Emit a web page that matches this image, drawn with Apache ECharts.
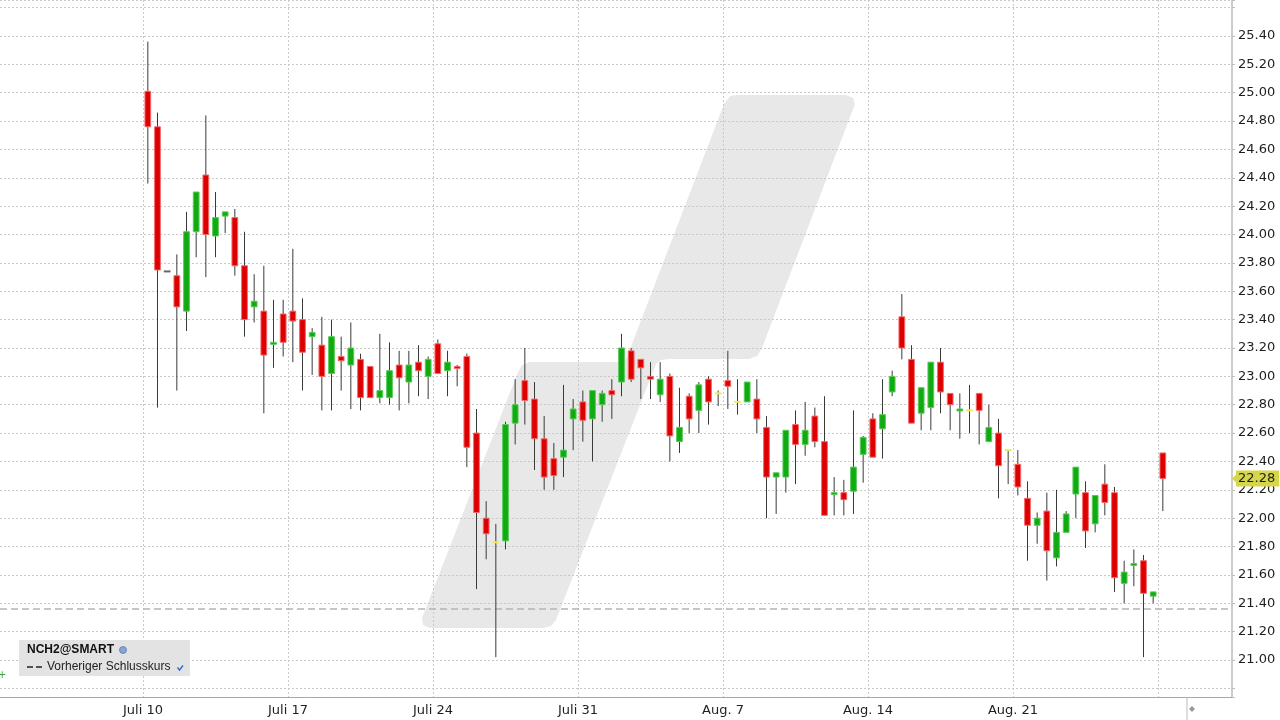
<!DOCTYPE html>
<html><head><meta charset="utf-8">
<script src="https://cdn.jsdelivr.net/npm/echarts@6/dist/echarts.min.js"></script>
<style>html,body{margin:0;padding:0;background:#fff}#c{width:1280px;height:720px}</style>
</head><body><div id="c"></div>
<script>
// ---- data ----
const tradingDays = ['Juli 10','Juli 11','Juli 12','Juli 13','Juli 14',
  'Juli 17','Juli 18','Juli 19','Juli 20','Juli 21',
  'Juli 24','Juli 25','Juli 26','Juli 27','Juli 28',
  'Juli 31','Aug. 1','Aug. 2','Aug. 3','Aug. 4',
  'Aug. 7','Aug. 8','Aug. 9','Aug. 10','Aug. 11',
  'Aug. 14','Aug. 15','Aug. 16','Aug. 17','Aug. 18',
  'Aug. 21','Aug. 22','Aug. 23','Aug. 24','Aug. 25',
  'Aug. 28'];
const sessions = ['09:00','12:00','15:00'];
const weekStarts = ['Juli 10','Juli 17','Juli 24','Juli 31','Aug. 7','Aug. 14','Aug. 21','Aug. 28'];
const tickLabels = ['Juli 10','Juli 17','Juli 24','Juli 31','Aug. 7','Aug. 14','Aug. 21'];
const leadSlots = 16, tailSlots = 20;

const opens = [25.01,24.76,23.74,23.71,23.46,24.02,24.42,23.99,24.13,24.12,23.78,23.49,23.46,23.23,23.44,
 23.46,23.40,23.28,23.22,23.02,23.14,23.08,23.12,23.07,22.85,22.85,23.08,22.96,23.10,23.00,
 23.23,23.04,23.07,23.14,22.60,22.00,21.83,21.84,22.67,22.97,22.84,22.56,22.42,22.43,22.70,
 22.82,22.70,22.80,22.90,22.96,23.18,23.12,23.00,22.87,23.00,22.54,22.86,22.76,22.98,22.88,
 22.97,22.82,22.82,22.84,22.64,22.29,22.29,22.66,22.52,22.72,22.54,22.17,22.18,22.19,22.45,
 22.70,22.63,22.89,23.42,23.12,22.74,22.78,23.10,22.88,22.76,22.76,22.88,22.54,22.60,22.48,
 22.38,22.14,21.95,22.05,21.72,21.90,22.17,22.18,21.96,22.24,22.18,21.54,21.67,21.70,21.45,
 22.46];
const closes = [24.76,23.75,23.74,23.49,24.02,24.30,24.00,24.12,24.16,23.78,23.40,23.53,23.15,23.24,23.24,
 23.39,23.17,23.31,23.00,23.28,23.11,23.20,22.85,22.85,22.90,23.04,22.99,23.08,23.04,23.12,
 23.02,23.10,23.06,22.50,22.04,21.89,21.83,22.66,22.80,22.83,22.56,22.29,22.30,22.48,22.77,
 22.69,22.90,22.88,22.87,23.20,22.98,23.06,22.98,22.98,22.58,22.64,22.70,22.94,22.82,22.88,
 22.93,22.82,22.96,22.70,22.29,22.32,22.62,22.52,22.62,22.54,22.02,22.18,22.13,22.36,22.57,
 22.43,22.73,23.00,23.20,22.67,22.92,23.10,22.89,22.80,22.77,22.76,22.76,22.64,22.37,22.48,
 22.22,21.95,22.00,21.77,21.90,22.03,22.36,21.91,22.16,22.11,21.58,21.62,21.68,21.47,21.48,
 22.28];
const lows = [24.36,22.78,23.74,22.90,23.32,23.84,23.70,23.84,24.01,23.71,23.28,23.38,22.74,23.06,23.14,
 23.10,22.90,23.01,22.76,22.76,22.90,22.77,22.76,22.85,22.81,22.80,22.76,22.81,22.86,22.84,
 23.02,22.86,22.93,22.36,21.50,21.71,21.02,21.78,22.52,22.66,22.34,22.20,22.20,22.29,22.48,
 22.54,22.40,22.68,22.70,22.86,22.96,22.84,22.84,22.82,22.40,22.46,22.60,22.60,22.66,22.79,
 22.77,22.73,22.82,22.60,22.00,22.03,22.18,22.24,22.44,22.50,22.02,22.02,22.02,22.03,22.25,
 22.43,22.42,22.86,23.12,22.67,22.62,22.62,22.74,22.62,22.56,22.60,22.52,22.54,22.14,22.24,
 22.16,21.70,21.82,21.56,21.66,21.90,22.00,21.79,21.90,22.02,21.48,21.40,21.52,21.02,21.40,
 22.05];
const highs = [25.36,24.86,23.74,23.86,24.16,24.30,24.84,24.30,24.16,24.18,24.02,23.72,23.78,23.54,23.54,
 23.90,23.55,23.34,23.42,23.40,23.28,23.38,23.16,23.07,23.30,23.24,23.18,23.18,23.22,23.14,
 23.26,23.18,23.08,23.16,22.77,22.12,21.96,22.68,22.98,23.20,22.96,22.72,22.53,22.94,22.84,
 22.90,22.90,22.90,22.98,23.30,23.20,23.12,23.10,23.10,23.02,22.92,22.88,22.96,23.00,22.90,
 23.18,22.98,22.96,22.98,22.72,22.32,22.62,22.76,22.82,22.78,22.86,22.29,22.27,22.76,22.58,
 22.74,22.98,23.04,23.58,23.22,22.92,23.10,23.20,22.88,22.88,22.94,22.88,22.80,22.70,22.48,
 22.48,22.26,22.04,22.18,22.20,22.05,22.36,22.26,22.16,22.38,22.22,21.70,21.78,21.74,21.48,
 22.46];
const grayDoji = [2];
const previousClose = 21.36;
const yMin = 20.739, yMax = 25.654;
const labelRange = [20.9, 25.5];

// ---- categories ----
const slotW = 145 / 15;
const categories = [];
for (let i = 0; i < leadSlots; i++) categories.push('pad-' + i);
const candleCats = [];
tradingDays.forEach(d => sessions.forEach(s => candleCats.push(d + ' ' + s)));
candleCats.length = opens.length;
candleCats.forEach(c => categories.push(c));
for (let i = 0; i < tailSlots; i++) categories.push('tail-' + i);

const candleData = opens.map((o, i) => [leadSlots + i, o, closes[i], lows[i], highs[i]]);
const lastClose = closes[closes.length - 1];

function dayOf(idx) {
  const name = categories[idx];
  if (!name || !name.endsWith(' ' + sessions[0])) return null;
  return name.slice(0, -(sessions[0].length + 1));
}
function isWeekStart(idx) { const d = dayOf(idx); return d !== null && weekStarts.includes(d); }
function weekLabel(idx) { const d = dayOf(idx); return (d && tickLabels.includes(d)) ? d : ''; }

function renderItem(params, api) {
  const x = api.value(0), o = api.value(1), c = api.value(2), lo = api.value(3), hi = api.value(4);
  const pTop = api.coord([x, Math.max(o, c)]);
  const pBot = api.coord([x, Math.min(o, c)]);
  const pH = api.coord([x, hi]);
  const pL = api.coord([x, lo]);
  const bw = api.size([1, 0])[0] * 0.7;
  const cx = pTop[0];
  const children = [{
    type: 'line', shape: {x1: cx, y1: pH[1], x2: cx, y2: pL[1]},
    style: {stroke: '#3a3a3a', lineWidth: 1}
  }];
  if (o === c) {
    const col = grayDoji.includes(params.dataIndex) ? '#666666' : '#ecec5a';
    children.push({type: 'rect', shape: {x: cx - bw / 2, y: pTop[1] - 1, width: bw, height: 2}, style: {fill: col}});
  } else {
    const up = c > o;
    const h = Math.max(2, pBot[1] - pTop[1]);
    children.push({
      type: 'rect',
      shape: {x: cx - bw / 2 + 0.5, y: pTop[1], width: bw - 1, height: h},
      style: {fill: up ? '#12aa12' : '#dc0000', stroke: up ? '#58cc58' : '#f46a6a', lineWidth: 1}
    });
  }
  return {type: 'group', children};
}

function box(x, y, w, h) { return [[x, y], [x + w, y], [x + w, y + h], [x, y + h]]; }

const chart = echarts.init(document.getElementById('c'), null, {renderer: 'canvas'});
const axisFont = {fontFamily: 'DejaVu Sans', fontSize: 13, color: '#1e1e1e'};
const g1Left = 143 - leadSlots * slotW;
const g1Right = 1280 - (g1Left + categories.length * slotW);

const option = {
  animation: false,
  grid: [
    {left: 0, right: 48, top: 0, bottom: 23, outerBoundsMode: 'none', containLabel: false},
    {left: g1Left, right: g1Right, top: 0, bottom: 23, outerBoundsMode: 'none', containLabel: false}
  ],
  xAxis: [
    {type: 'value', gridIndex: 0, min: 0, max: 1, axisLabel: {show: false}, axisTick: {show: false},
     splitLine: {show: false}, axisLine: {show: true, onZero: false, lineStyle: {color: '#a8a8a8', width: 1}}},
    {type: 'category', gridIndex: 1, data: categories, boundaryGap: true,
     axisLine: {show: false}, axisTick: {show: false},
     axisLabel: Object.assign({interval: (i) => isWeekStart(i), formatter: (v, i) => weekLabel(i),
       margin: 7, padding: [0, slotW, 0, 0], align: 'center'}, axisFont),
     splitLine: {show: true, interval: (i) => isWeekStart(i), lineStyle: {color: '#c9c9c9', type: [2, 2], width: 1}}}
  ],
  yAxis: [
    {type: 'value', gridIndex: 0, position: 'right', min: yMin, max: yMax, splitNumber: 25,
     axisLine: {show: true, onZero: false, lineStyle: {color: '#bdbdbd', width: 1.5}},
     axisTick: {show: true, length: 3, lineStyle: {color: '#bdbdbd'}},
     axisLabel: Object.assign({margin: 6, formatter: v => (v < labelRange[0] || v > labelRange[1]) ? '' : v.toFixed(2)}, axisFont),
     splitLine: {show: true, lineStyle: {color: '#c9c9c9', type: [2, 2], width: 1}}},
    {type: 'value', gridIndex: 1, position: 'right', min: yMin, max: yMax, splitNumber: 25, show: false,
     axisLine: {onZero: false}, splitLine: {show: false}}
  ],
  series: [
    {type: 'line', xAxisIndex: 0, yAxisIndex: 0, data: [], silent: true,
     markLine: {silent: true, symbol: ['none', 'none'],
       data: [
         {yAxis: previousClose, label: {show: false}, lineStyle: {color: '#b4b4b4', type: [7, 4], width: 1.5}},
         {yAxis: lastClose, lineStyle: {color: 'rgba(0,0,0,0)', width: 0},
          label: {show: true, position: 'end', distance: 4, formatter: p => Number(p.value).toFixed(2),
            backgroundColor: '#d6d64a', padding: [2, 4, 1, 2], fontFamily: 'DejaVu Sans', fontSize: 13, color: '#1e1e1e', opacity: 1}}
       ]}},
    {type: 'custom', xAxisIndex: 1, yAxisIndex: 1, renderItem, data: candleData, clip: true,
     encode: {x: 0, y: [1, 2, 3, 4]}, z: 5}
  ],
  graphic: [
    {id: 'wm', type: 'polygon', z: -1, silent: true,
     shape: {points: [[724,104],[730,96],[737,95],[846,95],[853,98],[855,104],[762,348],[757,356],[749,359],
       [668,359],[661,360],[656,364],[556,620],[551,626],[544,628],[430,628],[423,625],[422,618],
       [518,372],[522,365],[530,362],[618,362],[624,361],[627,357]]},
     style: {fill: '#e8e8e8'}},
    {id: 'legendBg', type: 'polygon', z: 90, shape: {points: box(19, 640, 171, 36)}, style: {fill: '#e3e3e3'}},
    {id: 'legendT1', type: 'text', z: 91, x: 27, y: 650, style: {text: 'NCH2@SMART', fontFamily: 'Liberation Sans', fontWeight: 'bold', fontSize: 12, fill: '#111', verticalAlign: 'middle'}},
    {id: 'legendGlobe', type: 'circle', z: 91, shape: {cx: 123, cy: 650, r: 3.5}, style: {fill: '#8aa6cf', stroke: '#5b7fb8', lineWidth: 0.8}},
    {id: 'legendDash', type: 'line', z: 91, shape: {x1: 27, y1: 667, x2: 43, y2: 667}, style: {stroke: '#222', lineWidth: 1.5, lineDash: [6, 3]}},
    {id: 'legendT2', type: 'text', z: 91, x: 47, y: 667, style: {text: 'Vorheriger Schlusskurs', fontFamily: 'Liberation Sans', fontSize: 12, fill: '#222', verticalAlign: 'middle'}},
    {id: 'legendCheck', type: 'polyline', z: 91, shape: {points: [[177.5, 667.5], [179.5, 670], [183, 665.5]]}, style: {stroke: '#2f6fd0', lineWidth: 1.4, fill: null}},
    {id: 'sep', type: 'line', z: 90, shape: {x1: 1187, y1: 697, x2: 1187, y2: 720}, style: {stroke: '#bbbbbb', lineWidth: 1}},
    {id: 'icon', type: 'polygon', z: 90, shape: {points: [[1192, 706], [1195, 709], [1192, 712], [1189, 709]]}, style: {fill: '#9a9a9a'}},
    {id: 'lplus', type: 'text', z: 90, x: -2, y: 675, style: {text: '+', fontFamily: 'DejaVu Sans', fontSize: 10, fill: '#3aa53a', verticalAlign: 'middle'}}
  ]
};
chart.setOption(option);

// arrow of the last-price tag, placed from the data through the axis
const py = chart.convertToPixel({yAxisIndex: 0}, lastClose);
chart.setOption({graphic: [{id: 'tagArrow', type: 'polygon', z: 95,
  shape: {points: [[1232, py], [1237, py - 5], [1237, py + 5]]}, style: {fill: '#d6d64a'}}]});
</script>
</body></html>
